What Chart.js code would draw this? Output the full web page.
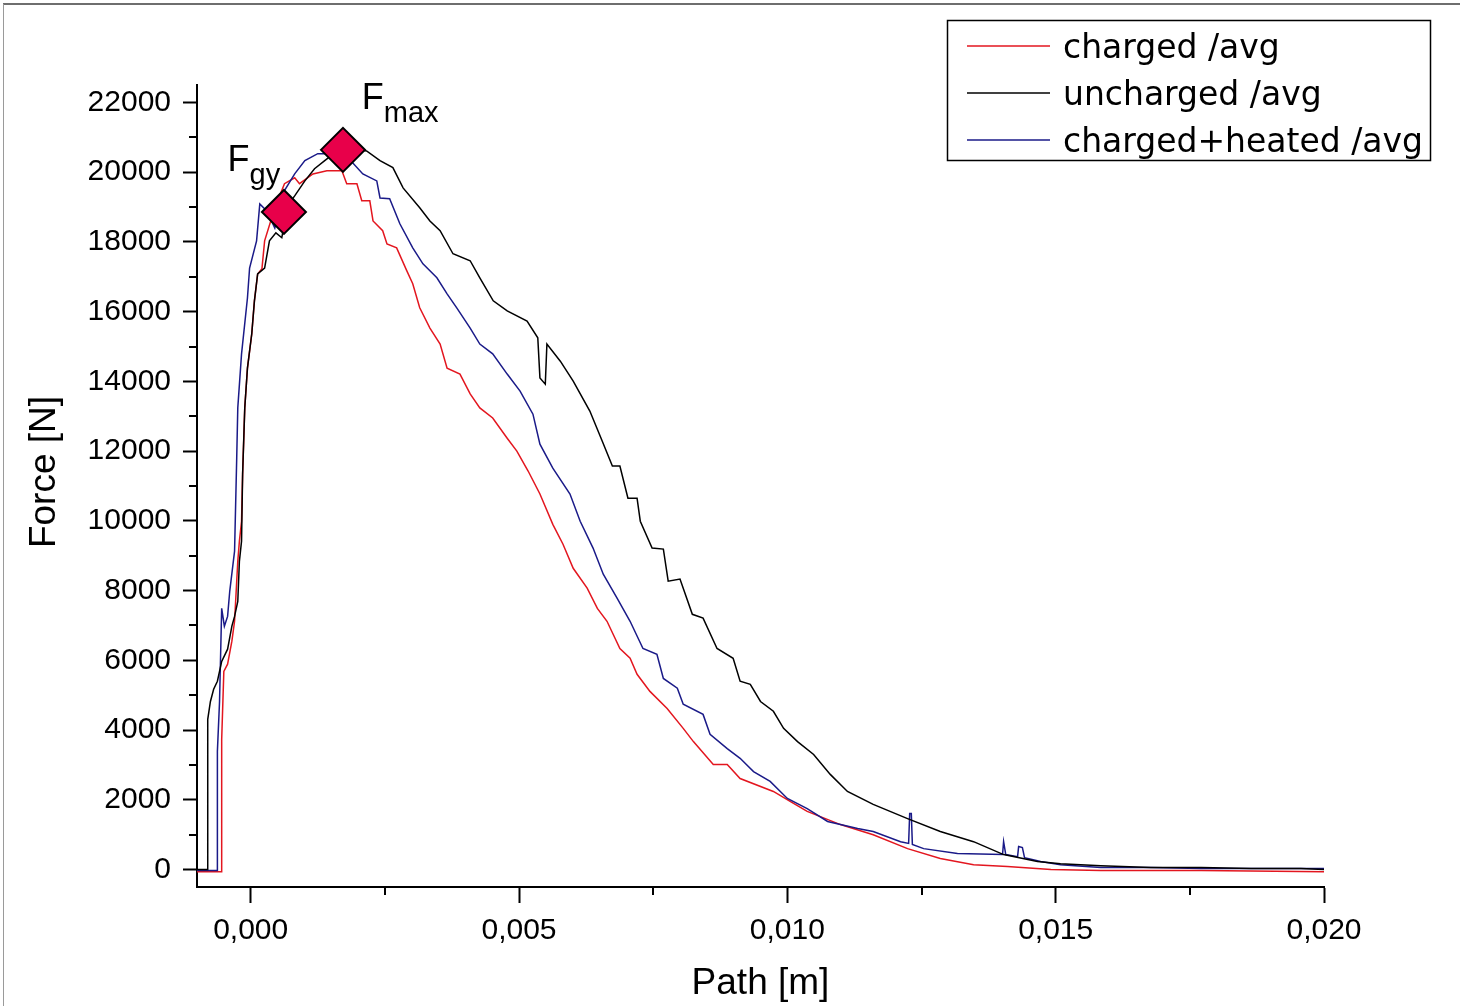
<!DOCTYPE html>
<html>
<head>
<meta charset="utf-8">
<script src="https://cdn.jsdelivr.net/npm/chart.js@4"></script>
<style>
  html, body { margin: 0; padding: 0; background: #fff; }
  #chart { display: block; }
</style>
</head>
<body>
<canvas id="chart" width="1460" height="1006"></canvas>
<script>
// path [m] / force [N]
var chargedX = [-0.00101, -0.00054, -0.00054, -0.00050, -0.00043, -0.00035, -0.00030, -0.00024, -0.00021, -0.00017, -0.00015, -0.00011, -0.00006, 0.00002, 0.00007, 0.00013, 0.00021, 0.00026, 0.00045, 0.00063, 0.00082, 0.00091, 0.00116, 0.00142, 0.00170, 0.00179, 0.00198, 0.00207, 0.00222, 0.00228, 0.00246, 0.00254, 0.00272, 0.00291, 0.00302, 0.00315, 0.00334, 0.00353, 0.00366, 0.00390, 0.00409, 0.00427, 0.00451, 0.00478, 0.00496, 0.00517, 0.00539, 0.00563, 0.00582, 0.00601, 0.00627, 0.00646, 0.00664, 0.00688, 0.00707, 0.00720, 0.00744, 0.00776, 0.00806, 0.00825, 0.00862, 0.00888, 0.00912, 0.00974, 0.01006, 0.01037, 0.01099, 0.01160, 0.01224, 0.01285, 0.01347, 0.01410, 0.01491, 0.01584, 0.01771, 0.02000]
var chargedY = [-60, -60, 3730, 5680, 5890, 6550, 7120, 8840, 9420, 9990, 11340, 13240, 14380, 15360, 16310, 17080, 17230, 18030, 18980, 19670, 19840, 19670, 19950, 20040, 20040, 19670, 19670, 19180, 19180, 18600, 18320, 17940, 17830, 17170, 16800, 16110, 15530, 15070, 14380, 14210, 13640, 13240, 12950, 12370, 12000, 11430, 10770, 9900, 9330, 8640, 8070, 7490, 7120, 6340, 6060, 5600, 5110, 4620, 4050, 3670, 3010, 3010, 2610, 2240, 1950, 1670, 1290, 1000, 600, 320, 140, 90, 0, -30, -30, -60]

var unchargedX = [-0.00101, -0.00080, -0.00080, -0.00075, -0.00069, -0.00062, -0.00054, -0.00043, -0.00035, -0.00030, -0.00024, -0.00021, -0.00017, -0.00015, -0.00011, -0.00006, 0.00002, 0.00007, 0.00013, 0.00026, 0.00035, 0.00047, 0.00058, 0.00069, 0.00082, 0.00101, 0.00119, 0.00138, 0.00157, 0.00175, 0.00194, 0.00216, 0.00241, 0.00265, 0.00284, 0.00315, 0.00334, 0.00353, 0.00377, 0.00409, 0.00427, 0.00452, 0.00478, 0.00515, 0.00535, 0.00539, 0.00549, 0.00552, 0.00577, 0.00601, 0.00632, 0.00655, 0.00674, 0.00688, 0.00703, 0.00720, 0.00726, 0.00748, 0.00769, 0.00778, 0.00800, 0.00823, 0.00843, 0.00869, 0.00899, 0.00912, 0.00931, 0.00950, 0.00974, 0.00993, 0.01019, 0.01049, 0.01080, 0.01112, 0.01160, 0.01224, 0.01285, 0.01347, 0.01403, 0.01466, 0.01509, 0.01584, 0.01677, 0.01771, 0.01864, 0.01957, 0.02000]
var unchargedY = [0, 0, 4310, 4820, 5170, 5400, 5970, 6320, 6980, 7260, 7690, 8840, 9420, 11340, 13240, 14380, 15360, 16310, 17080, 17250, 18030, 18260, 18120, 19040, 19320, 19750, 20100, 20330, 20560, 20700, 20670, 20610, 20330, 20130, 19550, 18980, 18600, 18320, 17660, 17460, 16970, 16310, 16020, 15730, 15250, 14100, 13920, 15070, 14580, 14010, 13150, 12290, 11570, 11570, 10650, 10650, 9990, 9220, 9190, 8270, 8330, 7320, 7210, 6340, 6060, 5400, 5310, 4820, 4540, 4050, 3670, 3300, 2730, 2240, 1870, 1460, 1090, 800, 430, 230, 170, 110, 60, 60, 30, 30, 0]

var heatedX = [-0.00101, -0.00062, -0.00062, -0.00058, -0.00054, -0.00049, -0.00043, -0.00039, -0.00030, -0.00026, -0.00024, -0.00017, -0.00006, -0.00002, 0.00011, 0.00017, 0.00030, 0.00045, 0.00063, 0.00082, 0.00101, 0.00125, 0.00142, 0.00179, 0.00190, 0.00209, 0.00235, 0.00241, 0.00259, 0.00278, 0.00302, 0.00321, 0.00347, 0.00366, 0.00384, 0.00409, 0.00427, 0.00451, 0.00478, 0.00502, 0.00526, 0.00539, 0.00563, 0.00595, 0.00614, 0.00638, 0.00657, 0.00683, 0.00707, 0.00731, 0.00757, 0.00769, 0.00795, 0.00806, 0.00843, 0.00856, 0.00888, 0.00912, 0.00937, 0.00968, 0.01000, 0.01037, 0.01075, 0.01131, 0.01160, 0.01211, 0.01226, 0.01228, 0.01231, 0.01233, 0.01254, 0.01317, 0.01401, 0.01403, 0.01407, 0.01429, 0.01431, 0.01438, 0.01442, 0.01472, 0.01509, 0.01584, 0.01677, 0.01771, 0.02000]
var heatedY = [-30, -30, 3390, 4820, 7490, 6980, 7260, 7980, 9130, 11800, 13240, 14790, 16390, 17250, 18030, 19090, 18890, 18400, 19470, 19950, 20330, 20530, 20530, 20410, 20270, 19950, 19750, 19260, 19240, 18520, 17830, 17370, 16970, 16510, 16110, 15530, 15070, 14790, 14210, 13720, 13060, 12200, 11510, 10770, 9990, 9220, 8470, 7780, 7120, 6340, 6170, 5480, 5200, 4740, 4450, 3880, 3470, 3190, 2810, 2530, 2040, 1750, 1380, 1180, 1090, 800, 750, 1610, 1610, 720, 600, 460, 430, 800, 430, 370, 660, 630, 340, 230, 140, 60, 60, 30, 30]

var seriesLabels = ['charged /avg', 'uncharged /avg', 'charged+heated /avg']
var seriesColors = ['#e3161f', '#000000', '#1a1a88']

// F_gy and F_max markers
var markerX = [0.00062, 0.00172]
var markerY = [18860, 20640]
var markerSubs = ['gy', 'max']

var xTicks = [0, 0.005, 0.010, 0.015, 0.020]
var xMinorTicks = [0.0025, 0.0075, 0.0125, 0.0175]
var yTicks = [0, 2000, 4000, 6000, 8000, 10000, 12000, 14000, 16000, 18000, 20000, 22000]
var yMinorTicks = [1000, 3000, 5000, 7000, 9000, 11000, 13000, 15000, 17000, 19000, 21000]

// where the F labels sit (data units, left edge / baseline)
var markerLabels = [
    {sub: markerSubs[0], x: -0.00043, y: 20040},
    {sub: markerSubs[1], x: 0.00207, y: 21820}
]

function toPoints(xs, ys) {
    return xs.map((x, i) => ({x: x, y: ys[i]}))
}

function lineSet(i, xs, ys) {
    return {
        label: seriesLabels[i],
        data: toPoints(xs, ys),
        borderColor: seriesColors[i],
        borderWidth: 1.5,
        pointRadius: 0,
        tension: 0,
        order: 1
    }
}

const framePlugin = {
    id: 'frame',
    beforeDraw(chart) {
        const ctx = chart.ctx
        ctx.save()
        ctx.fillStyle = '#fff'
        ctx.fillRect(0, 0, chart.width, chart.height)
        ctx.strokeStyle = '#6e6e6e'
        ctx.lineWidth = 2
        ctx.beginPath()
        ctx.moveTo(3, 4); ctx.lineTo(chart.width, 4)
        ctx.stroke()
        ctx.strokeStyle = '#9a9a9a'
        ctx.lineWidth = 1
        ctx.beginPath()
        ctx.moveTo(3.5, 4); ctx.lineTo(3.5, chart.height)
        ctx.stroke()
        ctx.restore()
    }
}

const extrasPlugin = {
    id: 'extras',
    afterDraw(chart) {
        const ctx = chart.ctx
        const xs = chart.scales.x, ys = chart.scales.y
        const area = chart.chartArea
        ctx.save()

        // minor ticks
        ctx.strokeStyle = '#000'
        ctx.lineWidth = 2
        ctx.beginPath()
        yMinorTicks.forEach(v => {
            const py = Math.round(ys.getPixelForValue(v))
            ctx.moveTo(area.left - 8, py); ctx.lineTo(area.left, py)
        })
        xMinorTicks.forEach(v => {
            const px = Math.round(xs.getPixelForValue(v))
            ctx.moveTo(px, area.bottom); ctx.lineTo(px, area.bottom + 8)
        })
        ctx.stroke()

        // y axis title, sits a bit above the middle of the axis
        ctx.fillStyle = '#000'
        ctx.save()
        ctx.translate(45, 472)
        ctx.rotate(-Math.PI / 2)
        ctx.font = '37px "Liberation Sans", Arial, sans-serif'
        ctx.textAlign = 'center'
        ctx.textBaseline = 'middle'
        ctx.fillText('Force [N]', 0, 0)
        ctx.restore()

        // F labels
        ctx.textBaseline = 'alphabetic'
        markerLabels.forEach(l => {
            const px = xs.getPixelForValue(l.x), py = ys.getPixelForValue(l.y)
            ctx.font = '36px "Liberation Sans", Arial, sans-serif'
            ctx.fillText('F', px, py)
            const w = ctx.measureText('F').width
            ctx.font = '29px "Liberation Sans", Arial, sans-serif'
            ctx.fillText(l.sub, px + w, py + 13)
        })

        // legend box
        ctx.strokeStyle = '#000'
        ctx.lineWidth = 1.5
        ctx.strokeRect(947.5, 20.5, 483, 140)
        ctx.font = '33px "DejaVu Sans", sans-serif'
        seriesLabels.forEach((label, i) => {
            const y = 46 + i * 47
            ctx.strokeStyle = seriesColors[i]
            ctx.lineWidth = 1.5
            ctx.beginPath()
            ctx.moveTo(967, y); ctx.lineTo(1050, y)
            ctx.stroke()
            ctx.fillStyle = '#000'
            ctx.fillText(label, 1063, y + 12)
        })
        ctx.restore()
    }
}

const tickFont = {family: '"Liberation Sans", Arial, sans-serif', size: 30}
const titleFont = {family: '"Liberation Sans", Arial, sans-serif', size: 37}

new Chart(document.getElementById('chart').getContext('2d'), {
    type: 'line',
    data: {
        datasets: [
            {
                label: 'markers',
                type: 'scatter',
                data: toPoints(markerX, markerY),
                pointStyle: 'rectRot',
                pointRadius: 22,
                backgroundColor: '#e8004a',
                borderColor: '#000',
                borderWidth: 2,
                order: 0
            },
            lineSet(1, unchargedX, unchargedY),
            lineSet(2, heatedX, heatedY),
            lineSet(0, chargedX, chargedY)
        ]
    },
    options: {
        responsive: false,
        animation: false,
        events: [],
        layout: {padding: {top: 85, right: 136, bottom: 0, left: 0}},
        plugins: {
            legend: {display: false},
            tooltip: {enabled: false}
        },
        scales: {
            x: {
                type: 'linear',
                min: -0.001,
                max: 0.020,
                afterFit: s => { s.height = 119 },
                afterBuildTicks: s => { s.ticks = xTicks.map(v => ({value: v})) },
                border: {color: '#000', width: 2},
                grid: {drawOnChartArea: false, drawTicks: true, tickLength: 16, tickWidth: 2, tickColor: '#000'},
                ticks: {
                    color: '#000',
                    font: tickFont,
                    padding: 10,
                    maxRotation: 0,
                    callback: v => v.toFixed(3).replace('.', ',')
                },
                title: {display: true, text: 'Path [m]', color: '#000', font: titleFont, padding: {top: 0, bottom: 0}}
            },
            y: {
                type: 'linear',
                min: -500,
                max: 22500,
                afterFit: s => { s.width = 197 },
                afterBuildTicks: s => { s.ticks = yTicks.map(v => ({value: v})) },
                border: {color: '#000', width: 2},
                grid: {drawOnChartArea: false, drawTicks: true, tickLength: 14, tickWidth: 2, tickColor: '#000'},
                ticks: {
                    color: '#000',
                    font: tickFont,
                    padding: 12,
                    callback: v => String(v)
                },
                title: {display: false}
            }
        }
    },
    plugins: [framePlugin, extrasPlugin]
});
</script>
</body>
</html>
